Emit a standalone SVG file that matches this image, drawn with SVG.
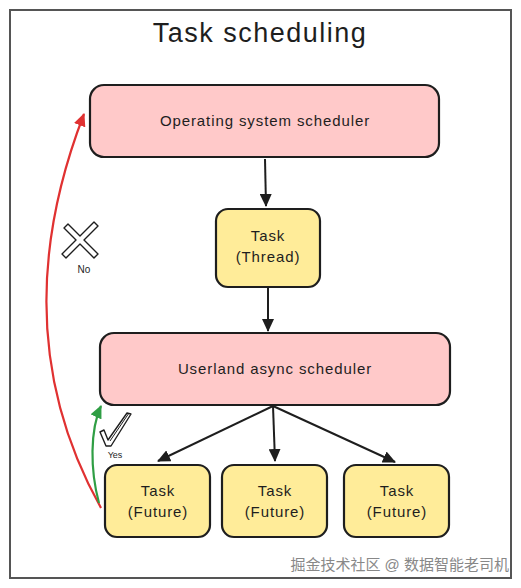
<svg xmlns="http://www.w3.org/2000/svg" width="521" height="588" viewBox="0 0 521 588">
<defs>
<style>
.pink{fill:#ffc9c9;stroke:#1e1e1e;stroke-width:2.2}
.yel{fill:#ffec99;stroke:#1e1e1e;stroke-width:2.2}
.t{font-family:"Liberation Sans",Arial,sans-serif;fill:#1e1e1e;text-anchor:middle}
.n{font-size:15px;letter-spacing:0.9px}
.c{fill:none;stroke:#1e1e1e;stroke-width:2}
</style>
<marker id="ab" markerWidth="14" markerHeight="12" refX="12" refY="6" orient="auto" markerUnits="userSpaceOnUse"><path d="M0,0 L13,6 L0,12 Z" fill="#1e1e1e"/></marker>
<marker id="ar" markerWidth="14" markerHeight="12" refX="12" refY="6" orient="auto" markerUnits="userSpaceOnUse"><path d="M0,0 L13,6 L0,12 Z" fill="#e03131"/></marker>
<marker id="ag" markerWidth="14" markerHeight="12" refX="12" refY="6" orient="auto" markerUnits="userSpaceOnUse"><path d="M0,0 L13,6 L0,12 Z" fill="#2f9e44"/></marker>
</defs>
<rect x="0" y="0" width="521" height="588" fill="#fff"/>
<rect x="10" y="10" width="501" height="568" fill="#fff" stroke="#555" stroke-width="2"/>
<text class="t" x="260" y="42" font-size="27" letter-spacing="1.5">Task scheduling</text>

<g id="os">
<rect class="pink" x="90" y="85" width="349" height="72" rx="14"/>
<text class="t n" x="265" y="126">Operating system scheduler</text>
</g>
<g id="thread">
<rect class="yel" x="216" y="209" width="104" height="78" rx="12"/>
<text class="t n" x="268" y="241">Task</text>
<text class="t n" x="268" y="262">(Thread)</text>
</g>
<g id="userland">
<rect class="pink" x="100" y="333" width="350" height="72" rx="14"/>
<text class="t n" x="275" y="374">Userland async scheduler</text>
</g>
<g id="f1">
<rect class="yel" x="105" y="465" width="105" height="72" rx="12"/>
<text class="t n" x="158" y="496">Task</text>
<text class="t n" x="158" y="517">(Future)</text>
</g>
<g id="f2">
<rect class="yel" x="222" y="465" width="105" height="72" rx="12"/>
<text class="t n" x="275" y="496">Task</text>
<text class="t n" x="275" y="517">(Future)</text>
</g>
<g id="f3">
<rect class="yel" x="344" y="465" width="105" height="72" rx="12"/>
<text class="t n" x="397" y="496">Task</text>
<text class="t n" x="397" y="517">(Future)</text>
</g>

<g id="connectors">
<path class="c" d="M265,159 L266,206" marker-end="url(#ab)"/>
<path class="c" d="M268,288 L268,331" marker-end="url(#ab)"/>
<path class="c" d="M273,406 L158,461" marker-end="url(#ab)"/>
<path class="c" d="M273,406 L275,461" marker-end="url(#ab)"/>
<path class="c" d="M273,406 L395,462" marker-end="url(#ab)"/>
<path d="M101,508 C52,420 16,290 84,114" fill="none" stroke="#e03131" stroke-width="2.2" marker-end="url(#ar)"/>
<path d="M99,503 C90,470 90,430 101,406" fill="none" stroke="#2f9e44" stroke-width="2.2" marker-end="url(#ag)"/>
</g>

<g id="no-mark">
<path d="M64,228 L76,240 L62,254 L66,258 L80,244 L94,258 L98,254 L84,240 L98,226 L94,222 L80,236 L68,224 Z" fill="#fff" stroke="#1e1e1e" stroke-width="1.4" stroke-linejoin="round"/>
<text class="t" x="84" y="273" font-size="10">No</text>
</g>
<g id="yes-mark">
<path d="M100,432 L106,446 L111,446 L131,414 L127,413 L108,440 L104,430 Z" fill="#fff" stroke="#1e1e1e" stroke-width="1.4" stroke-linejoin="round"/>
<path d="M110,441 L129,413" fill="none" stroke="#1e1e1e" stroke-width="1"/>
<text class="t" x="115" y="458" font-size="9">Yes</text>
</g>

<text x="509" y="570" font-family="'Liberation Sans','Noto Sans CJK SC',sans-serif" font-size="15" fill="#888" text-anchor="end">掘金技术社区 @ 数据智能老司机</text>
</svg>
